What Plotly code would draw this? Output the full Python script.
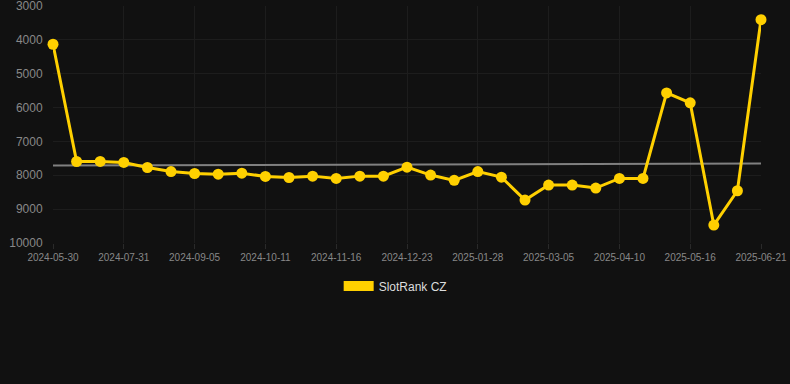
import plotly.graph_objects as go

dates = [
    "2024-05-30", "2024-06-19", "2024-07-10", "2024-07-31", "2024-08-12", "2024-08-24",
    "2024-09-05", "2024-09-17", "2024-09-29", "2024-10-11", "2024-10-23", "2024-11-04",
    "2024-11-16", "2024-11-28", "2024-12-10", "2024-12-23", "2025-01-04", "2025-01-16",
    "2025-01-28", "2025-02-09", "2025-02-21", "2025-03-05", "2025-03-17", "2025-03-29",
    "2025-04-10", "2025-04-22", "2025-05-04", "2025-05-16", "2025-05-28", "2025-06-09",
    "2025-06-21",
]
rank = [
    4130, 7593, 7590, 7620, 7770, 7890, 7947, 7966, 7937, 8035, 8065, 8025,
    8094, 8025, 8025, 7760, 7994, 8150, 7890, 8055, 8732, 8290, 8290, 8378,
    8094, 8094, 5566, 5861, 9470, 8457, 3404,
]
trend_x = [dates[0], dates[-1]]
trend_y = [7710, 7652]
tick_labels = dates[::3]
y_ticks = [3000, 4000, 5000, 6000, 7000, 8000, 9000, 10000]
y_tick_text = [str(v) for v in y_ticks]

gold = "#FFD000"
grid = "#1d1d1d"

fig = go.Figure()
fig.add_trace(go.Scatter(
    x=trend_x, y=trend_y, mode="lines",
    line=dict(color="#808080", width=2), showlegend=False, hoverinfo="skip",
))
fig.add_trace(go.Scatter(
    x=dates, y=rank, mode="lines+markers", name="SlotRank CZ",
    line=dict(color=gold, width=3), marker=dict(color=gold, size=11),
    cliponaxis=False, showlegend=False,
))
fig.add_trace(go.Scatter(
    x=[None], y=[None], mode="lines", name="SlotRank CZ",
    line=dict(color=gold, width=12),
))

fig.update_layout(
    width=790, height=384,
    paper_bgcolor="#111111", plot_bgcolor="#111111",
    margin=dict(l=53, r=29, t=6, b=141),
    font=dict(family="Arial, Liberation Sans, sans-serif", color="#888888"),
    legend=dict(
        orientation="h", x=0.484, xanchor="center", y=-0.12, yanchor="top",
        font=dict(size=12, color="#dddddd"), bgcolor="rgba(0,0,0,0)",
    ),
    xaxis=dict(
        type="category", categoryorder="array", categoryarray=dates,
        range=[0, len(dates) - 1], automargin=False,
        tickmode="array", tickvals=tick_labels, ticktext=tick_labels,
        tickfont=dict(size=10, color="#888888"),
        showgrid=True, gridcolor=grid, gridwidth=1,
        zeroline=False, showline=False,
        ticks="outside", ticklen=5, tickcolor="#2a2a2a",
        ticklabeloverflow="allow",
    ),
    yaxis=dict(
        range=[10000, 3000], automargin=False,
        tickmode="array", tickvals=y_ticks, ticktext=y_tick_text,
        tickfont=dict(size=12, color="#888888"),
        showgrid=True, gridcolor=grid, gridwidth=1,
        zeroline=False, showline=False,
        ticks="outside", ticklen=7, tickcolor="rgba(0,0,0,0)",
        ticklabeloverflow="allow",
    ),
)

fig.write_html(
    "out.html",
    config={"displayModeBar": False},
    post_script="document.body.style.margin='0';",
)
